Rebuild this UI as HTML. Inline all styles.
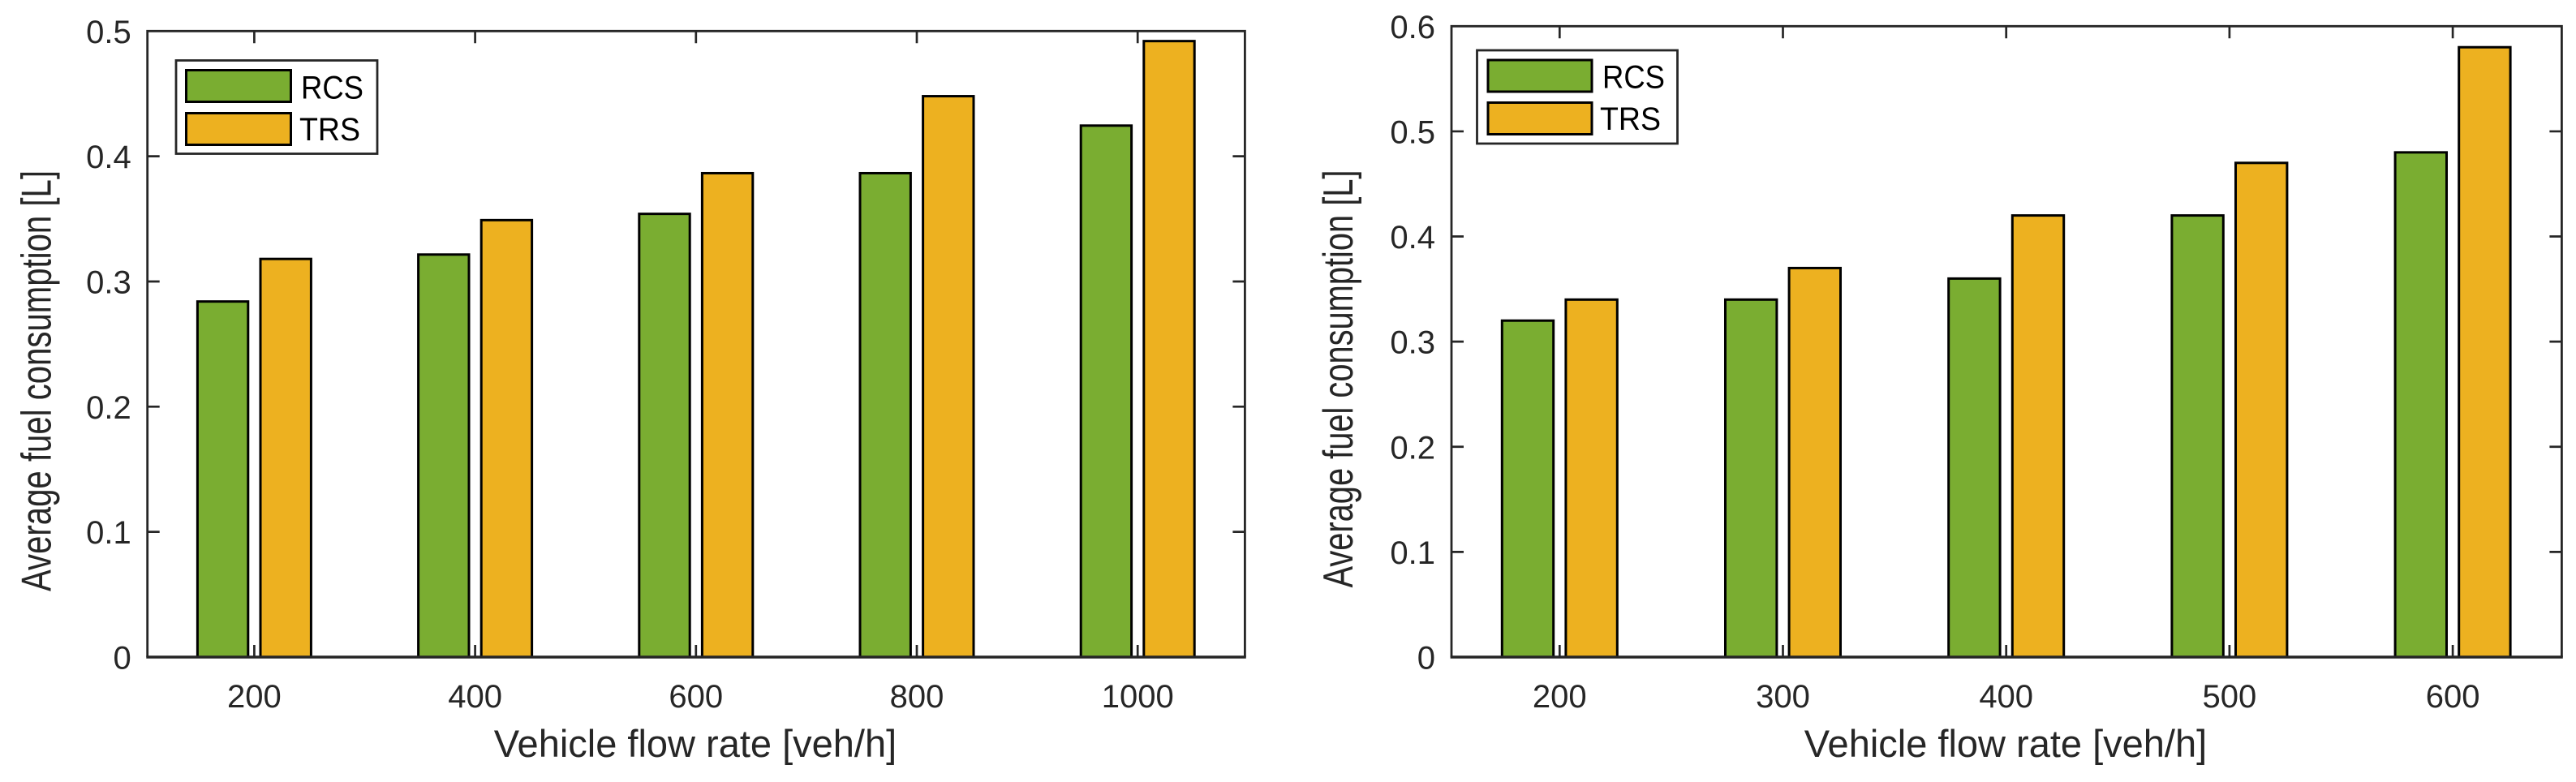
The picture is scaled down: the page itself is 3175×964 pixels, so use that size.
<!DOCTYPE html>
<html lang="en">
<head>
<meta charset="utf-8">
<title>Average fuel consumption charts</title>
<style>
html,body{margin:0;padding:0;background:#fff;}
svg{display:block;}
text{font-family:"Liberation Sans",sans-serif;fill:#262626;}
</style>
</head>
<body>
<svg id="figure" xmlns="http://www.w3.org/2000/svg" width="3175" height="964" viewBox="0 0 3175 964"></svg>
<script>
// Left chart data
const leftCategories = ['200', '400', '600', '800', '1000'];
const leftRCS = [0.284, 0.3215, 0.354, 0.3865, 0.4245];
const leftTRS = [0.318, 0.349, 0.3865, 0.448, 0.492];
const leftYTicks = [0, 0.1, 0.2, 0.3, 0.4, 0.5];
const leftYLabels = ['0', '0.1', '0.2', '0.3', '0.4', '0.5'];
const leftYMax = 0.5;

// Right chart data
const rightCategories = ['200', '300', '400', '500', '600'];
const rightRCS = [0.32, 0.34, 0.36, 0.42, 0.48];
const rightTRS = [0.34, 0.37, 0.42, 0.47, 0.58];
const rightYTicks = [0, 0.1, 0.2, 0.3, 0.4, 0.5, 0.6];
const rightYLabels = ['0', '0.1', '0.2', '0.3', '0.4', '0.5', '0.6'];
const rightYMax = 0.6;

const seriesNames = ['RCS', 'TRS'];
const xAxisTitle = 'Vehicle flow rate [veh/h]';
const yAxisTitle = 'Average fuel consumption [L]';

const NS = 'http://www.w3.org/2000/svg';
const svg = document.getElementById('figure');
const AXIS = '#262626', GREEN = '#7aad31', ORANGE = '#edb120';

function mk(parent, tag, attrs, txt) {
  const el = document.createElementNS(NS, tag);
  for (const k in attrs) el.setAttribute(k, attrs[k]);
  if (txt !== undefined) el.textContent = txt;
  parent.appendChild(el);
  return el;
}

function drawChart(cfg) {
  const g = mk(svg, 'g', {});
  
  

  const xAt = i => cfg.firstTick + i * cfg.tickStep;
  const yAt = v => cfg.bottom - (v / cfg.yMax) * (cfg.bottom - cfg.top);

  // bars
  cfg.categories.forEach((cat, i) => {
    const x = xAt(i);
    const r1 = mk(g, 'rect', {x: x - cfg.outer, y: yAt(cfg.rcs[i]), width: cfg.outer - cfg.inner, height: cfg.bottom - yAt(cfg.rcs[i]), fill: GREEN, stroke: '#000', 'stroke-width': 3});
    
    
    const r2 = mk(g, 'rect', {x: x + cfg.inner, y: yAt(cfg.trs[i]), width: cfg.outer - cfg.inner, height: cfg.bottom - yAt(cfg.trs[i]), fill: ORANGE, stroke: '#000', 'stroke-width': 3});
    
    
  });

  // axes box
  const box = mk(g, 'path', {d: `M${cfg.left} ${cfg.bottom}V${cfg.top}H${cfg.right}V${cfg.bottom}`, fill: 'none', stroke: AXIS, 'stroke-width': 2.8});
  
  
  const base = mk(g, 'line', {x1: cfg.left - 1.4, x2: cfg.right + 1.4, y1: cfg.bottom, y2: cfg.bottom, stroke: AXIS, 'stroke-width': 3.6});
  
  

  // x ticks and labels
  cfg.categories.forEach((cat, i) => {
    const x = xAt(i);
    const t = mk(g, 'path', {d: `M${x} ${cfg.bottom}v-15M${x} ${cfg.top}v15`, stroke: AXIS, 'stroke-width': 2.7, fill: 'none'});
    
    
    const l = mk(g, 'text', {x: x, y: 872, 'font-size': 40, 'text-anchor': 'middle'}, cat);
    
    
  });

  // y ticks and labels
  cfg.yTicks.forEach((v, i) => {
    const y = yAt(v);
    if (v > 0 && v < cfg.yMax) {
      const t = mk(g, 'path', {d: `M${cfg.left} ${y}h15M${cfg.right} ${y}h-15`, stroke: AXIS, 'stroke-width': 2.7, fill: 'none'});
      
      
    }
    const l = mk(g, 'text', {x: cfg.left - 20, y: y + 14.5, 'font-size': 40, 'text-anchor': 'end'}, cfg.yLabels[i]);
    
    
  });

  // axis titles
  const xt = mk(g, 'text', {x: cfg.xTitleX, y: 933, 'font-size': 47, 'text-anchor': 'middle'}, xAxisTitle);
  
  
  const yt = mk(g, 'text', {transform: `translate(${cfg.yTitleX} ${cfg.yTitleY}) rotate(-90)`, 'font-size': 52, 'text-anchor': 'middle', textLength: cfg.yTitleLen, lengthAdjust: 'spacingAndGlyphs'}, yAxisTitle);
  
  

  // legend
  const lg = mk(g, 'g', {});
  
  
  const L = cfg.legend;
  const frame = mk(lg, 'rect', {x: L.x, y: L.y, width: L.w, height: L.h, fill: '#fff', stroke: AXIS, 'stroke-width': 2.8});
  
  
  const p1 = mk(lg, 'rect', {x: L.px, y: L.y1, width: L.pw, height: L.ph, fill: GREEN, stroke: '#000', 'stroke-width': 3});
  
  
  const p2 = mk(lg, 'rect', {x: L.px, y: L.y2, width: L.pw, height: L.ph, fill: ORANGE, stroke: '#000', 'stroke-width': 3});
  
  
  const t1 = mk(lg, 'text', {x: L.tx1, y: L.b1, 'font-size': 40, textLength: 77, lengthAdjust: 'spacingAndGlyphs', style: 'fill:#000'}, seriesNames[0]);
  
  
  const t2 = mk(lg, 'text', {x: L.tx2, y: L.b2, 'font-size': 40, textLength: 75, lengthAdjust: 'spacingAndGlyphs', style: 'fill:#000'}, seriesNames[1]);
  
  
}

drawChart({
  id: 'left', categories: leftCategories, rcs: leftRCS, trs: leftTRS,
  yTicks: leftYTicks, yLabels: leftYLabels, yMax: leftYMax,
  left: 181.7, right: 1534.4, top: 38.3, bottom: 810,
  firstTick: 313.4, tickStep: 272.2, outer: 70, inner: 7.6,
  xTitleX: 857, yTitleX: 62.5, yTitleY: 469.5, yTitleLen: 519,
  legend: {x: 217, y: 74.5, w: 248, h: 115, px: 229.5, pw: 129, ph: 39, y1: 86.5, y2: 139.5, tx1: 371, tx2: 369, b1: 121.5, b2: 173}
});
drawChart({
  id: 'right', categories: rightCategories, rcs: rightRCS, trs: rightTRS,
  yTicks: rightYTicks, yLabels: rightYLabels, yMax: rightYMax,
  left: 1789, right: 3157.4, top: 32.3, bottom: 810,
  firstTick: 1922.3, tickStep: 275.2, outer: 71, inner: 7.6,
  xTitleX: 2472, yTitleX: 1667, yTitleY: 467, yTitleLen: 515,
  legend: {x: 1820.5, y: 62, w: 247, h: 115, px: 1834, pw: 128, ph: 39, y1: 74, y2: 126.5, tx1: 1975, tx2: 1972, b1: 108.5, b2: 160}
});
</script>
</body>
</html>
